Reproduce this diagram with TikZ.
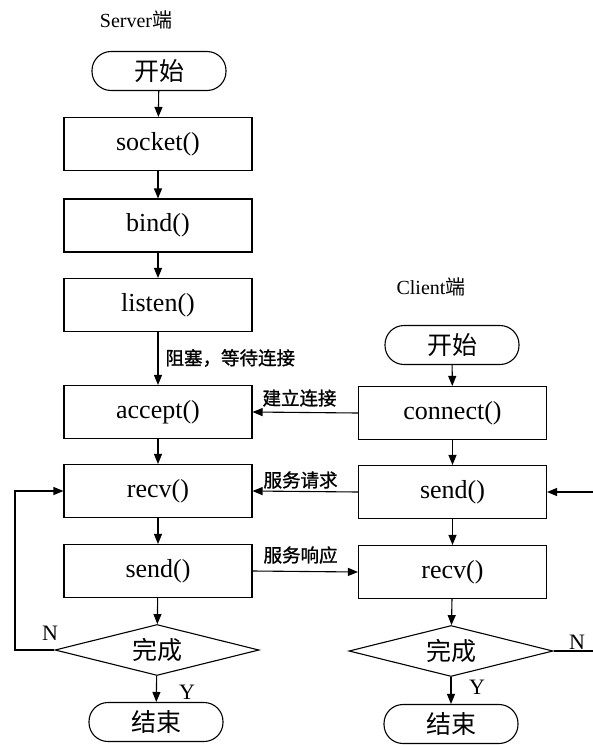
\documentclass[tikz,border=0pt]{standalone}
\usepackage{fontspec}
\setmainfont{Liberation Serif}
\newfontfamily\cjk{Noto Sans CJK SC}
\newfontfamily\cjklab[FakeBold=1.2]{Noto Sans CJK SC}
\usetikzlibrary{shapes.geometric,arrows.meta}
\begin{document}
\begin{tikzpicture}[x=1pt,y=-1pt,
  every path/.style={line width=1.1pt},
  proc/.style={draw,rectangle,minimum width=188pt,minimum height=53pt,inner sep=0pt,
    font=\fontsize{26}{26}\selectfont},
  term/.style={draw,rectangle,rounded corners=19pt,minimum width=134pt,minimum height=39pt,inner sep=0pt,
    font=\fontsize{25}{25}\selectfont\cjk},
  dec/.style={draw,diamond,aspect=4,minimum width=204pt,minimum height=51pt,inner sep=0pt,
    font=\fontsize{25}{25}\selectfont\cjk},
  lab/.style={anchor=west,inner sep=0pt,font=\fontsize{18.5}{18.5}\selectfont\cjklab},
  yn/.style={inner sep=0pt,font=\fontsize{22}{22}\selectfont},
  title/.style={inner sep=0pt,font=\fontsize{20}{20}\selectfont},
  arr/.style={-{Triangle[length=10pt,width=8pt]}},
  ln/.style={-}]
\useasboundingbox (0,0) rectangle (593,745);
% titles
\node[title] (tS) at (136,20) {Server{\cjk 端}};
\node[title] (tC) at (431,287) {Client{\cjk 端}};
% server column
\node[term] (s0) at (159,71) {开始};
\node[proc] (socket) at (158,144) {socket()};
\node[proc] (bind) at (158,225.5) {bind()};
\node[proc] (listen) at (158,305) {listen()};
\node[proc] (accept) at (158,412) {accept()};
\node[proc] (recv) at (158,491) {recv()};
\node[proc] (send) at (158,571) {send()};
\node[dec] (d1) at (157,650) {完成};
\node[term] (e1) at (156,722) {结束};
% client column
\node[term] (c0) at (452,345) {开始};
\node[proc] (connect) at (452.5,413) {connect()};
\node[proc] (csend) at (452.5,492) {send()};
\node[proc] (crecv) at (452.5,572) {recv()};
\node[dec] (d2) at (451,651) {完成};
\node[term] (e2) at (451,724) {结束};
% labels
\node[lab] (l1) at (165,358) {阻塞，等待连接};
\node[lab] (l2) at (262,398) {建立连接};
\node[lab] (l3) at (263,480) {服务请求};
\node[lab] (l4) at (263,555) {服务响应};
\node[yn] (n1) at (50,633) {N};
\node[yn] (y1) at (187,692) {Y};
\node[yn] (n2) at (577,642) {N};
\node[yn] (y2) at (477,687) {Y};
% coordinates
\coordinate (cL) at (15,650);
\coordinate (cR1) at (593,651);
\coordinate (cR2) at (593,492);
% server arrows
\draw[arr] (s0) -- (socket);
\draw[arr] (socket) -- (bind);
\draw[arr] (bind) -- (listen);
\draw[arr] (listen) -- (accept);
\draw[arr] (accept) -- (recv);
\draw[arr] (recv) -- (send);
\draw[arr] (send) -- (d1);
\draw[arr] (d1) -- (e1);
\draw[arr] (d1.west) -- (cL) |- (recv.west);
% client arrows
\draw[arr] (c0) -- (connect);
\draw[arr] (connect) -- (csend);
\draw[arr] (csend) -- (crecv);
\draw[arr] (crecv) -- (d2);
\draw[arr] (d2) -- (e2);
\draw[ln] (d2.east) -- (cR1);
\draw[arr] (cR2) -- (csend.east);
% cross arrows
\draw[arr] (connect.west) -- (accept.east);
\draw[arr] (csend.west) -- (recv.east);
\draw[arr] (send.east) -- (crecv.west);
\end{tikzpicture}
\end{document}
